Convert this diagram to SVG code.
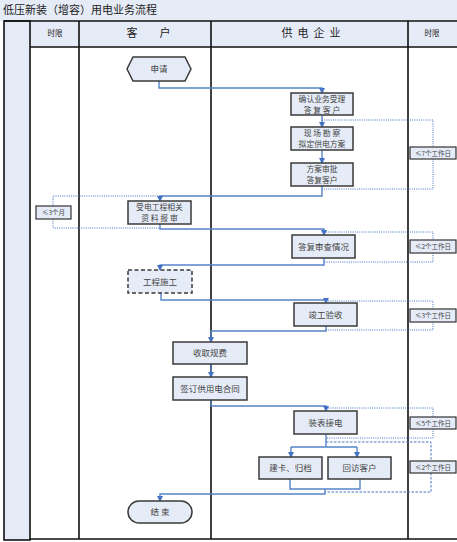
<svg xmlns="http://www.w3.org/2000/svg" width="457" height="542" viewBox="0 0 457 542">
<style>
text{font-family:"Noto Sans CJK SC","Liberation Sans",sans-serif;fill:#444}
.hd{font-size:11px;text-anchor:middle;fill:#222}
.hs{font-size:7.5px;text-anchor:middle;fill:#222}
.bx{fill:#e6ecf7;stroke:#3a3a3a;stroke-width:1.5}
.bt{font-size:8.5px;text-anchor:middle}
.b2{font-size:7.8px;text-anchor:middle}
.lb{fill:#e6ecf7;stroke:#333;stroke-width:1.2}
.lt{font-size:6.5px;text-anchor:middle}
.cn{fill:none;stroke:#5584c8;stroke-width:1.4}
.dt{fill:none;stroke:#4472c4;stroke-width:1;stroke-dasharray:1,1.2}
.ds{fill:none;stroke:#4472c4;stroke-width:1;stroke-dasharray:2.5,1.5}
.ln{stroke:#111;stroke-width:1.6;fill:none}
</style>
<defs>
<marker id="ar" markerUnits="userSpaceOnUse" markerWidth="6" markerHeight="6" refX="5" refY="3" orient="auto">
<path d="M0,0 L6,3 L0,6 z" fill="#4472c4"/>
</marker>
</defs>
<rect x="0" y="0" width="457" height="542" fill="#fff"/>
<g id="frame">
<rect x="0" y="0" width="457" height="21" fill="#e6ecf7"/>
<text x="3" y="14" style="font-size:11px;fill:#222">低压新装（增容）用电业务流程</text>
<rect x="30" y="21" width="427" height="26" fill="#e6ecf7"/>
<rect x="4" y="21" width="26" height="519" fill="#e6ecf7" stroke="#111" stroke-width="1.6"/>
<path class="ln" d="M4,21 H457 M30,47 H457 M30,539 H457 M79,21 V539 M211,21 V539 M408,21 V539"/>
<text class="hs" x="55" y="36">时限</text>
<text class="hd" x="132 165" y="37">客户</text>
<text class="hd" x="287 303 319 335" y="37">供电企业</text>
<text class="hs" x="432" y="36">时限</text>
</g>
<g id="connectors">
<path class="cn" d="M159,81 V88 H322 V93" marker-end="url(#ar)"/>
<path class="cn" d="M322,115 V127" marker-end="url(#ar)"/>
<path class="cn" d="M322,150 V163" marker-end="url(#ar)"/>
<path class="cn" d="M322,186 V196 H160 V201" marker-end="url(#ar)"/>
<path class="cn" d="M160,224 V229 H324 V235" marker-end="url(#ar)"/>
<path class="cn" d="M324,258 V265 H160 V270" marker-end="url(#ar)"/>
<path class="cn" d="M161,293 V300 H326 V303" marker-end="url(#ar)"/>
<path class="cn" d="M326,326 V331 H211 V342" marker-end="url(#ar)"/>
<path class="cn" d="M211,364 V377" marker-end="url(#ar)"/>
<path class="cn" d="M211,400 V406 H326 V411" marker-end="url(#ar)"/>
<path class="cn" d="M326,434 V447 M291,447 H357"/>
<path class="cn" d="M291,447 V457" marker-end="url(#ar)"/>
<path class="cn" d="M357,447 V457" marker-end="url(#ar)"/>
<path class="cn" d="M290,479 V489 H360 V479"/>
<path class="cn" d="M325,489 V494 H160 V501" marker-end="url(#ar)"/>
<path class="dt" d="M322,120 H433 V189 H322"/>
<path class="dt" d="M160,196 H53 V228 H160"/>
<path class="dt" d="M324,232 H433 V262 H324"/>
<path class="dt" d="M326,301 H433 V330 H326"/>
<path class="dt" d="M326,408 H433 V438 H326"/>
<path class="ds" d="M326,442 H431 V492 H325"/>
</g>
<g id="n_start">
<polygon class="bx" points="127,69 133,57 185,57 191,69 185,81 133,81"/>
<text class="bt" x="159" y="72">申请</text>
</g>
<g id="n_confirm">
<rect class="bx" x="291" y="93" width="62" height="22"/>
<text class="b2" x="322" y="102">确认业务受理</text>
<text class="b2" x="322" y="112.5">答 复 客 户</text>
</g>
<g id="n_survey">
<rect class="bx" x="291" y="127" width="62" height="23"/>
<text class="b2" x="322" y="136">现 场 勘 察</text>
<text class="b2" x="322" y="147">拟定供电方案</text>
</g>
<g id="n_approve">
<rect class="bx" x="291" y="163" width="62" height="23"/>
<text class="b2" x="322" y="172">方案审批</text>
<text class="b2" x="322" y="183">答复客户</text>
</g>
<g id="n_submit">
<rect class="bx" x="128" y="201" width="63" height="23"/>
<text class="b2" x="159.5" y="210">受电工程相关</text>
<text class="b2" x="159.5" y="221">资 料 报 审</text>
</g>
<g id="n_review">
<rect class="bx" x="292" y="235" width="63" height="23"/>
<text class="bt" x="323.5" y="249.5">答复审查情况</text>
</g>
<g id="n_build">
<rect x="128" y="270" width="64" height="23" fill="#e6ecf7" stroke="#3a3a3a" stroke-width="1.5" stroke-dasharray="4,2.5"/>
<text class="bt" x="160" y="284.5">工程施工</text>
</g>
<g id="n_accept">
<rect class="bx" x="294" y="303" width="63" height="23"/>
<text class="bt" x="325.5" y="317.5">竣工验收</text>
</g>
<g id="n_fee">
<rect class="bx" x="173" y="342" width="74" height="22"/>
<text class="bt" x="210" y="356">收取规费</text>
</g>
<g id="n_contract">
<rect class="bx" x="173" y="377" width="74" height="23"/>
<text class="bt" x="210" y="391.5">签订供用电合同</text>
</g>
<g id="n_meter">
<rect class="bx" x="294" y="411" width="63" height="23"/>
<text class="bt" x="325.5" y="425.5">装表接电</text>
</g>
<g id="n_archive">
<rect class="bx" x="259" y="457" width="63" height="22"/>
<text class="bt" x="290.5" y="471">建卡、归档</text>
</g>
<g id="n_visit">
<rect class="bx" x="328" y="457" width="63" height="22"/>
<text class="bt" x="359.5" y="471">回访客户</text>
</g>
<g id="n_end">
<rect class="bx" x="128" y="501" width="64" height="22" rx="11"/>
<text class="bt" x="160" y="515">结 束</text>
</g>
<g id="l1"><rect class="lb" x="410" y="147" width="46" height="12"/><text class="lt" x="433" y="155.5">≤7个工作日</text></g>
<g id="l2"><rect class="lb" x="36" y="206" width="35" height="13"/><text class="lt" x="53.5" y="215">≤3个月</text></g>
<g id="l3"><rect class="lb" x="410" y="240" width="46" height="13"/><text class="lt" x="433" y="249">≤2个工作日</text></g>
<g id="l4"><rect class="lb" x="410" y="309" width="46" height="13"/><text class="lt" x="433" y="318">≤3个工作日</text></g>
<g id="l5"><rect class="lb" x="410" y="417" width="46" height="12"/><text class="lt" x="433" y="425.5">≤5个工作日</text></g>
<g id="l6"><rect class="lb" x="410" y="461" width="46" height="12"/><text class="lt" x="433" y="469.5">≤2个工作日</text></g>
</svg>
